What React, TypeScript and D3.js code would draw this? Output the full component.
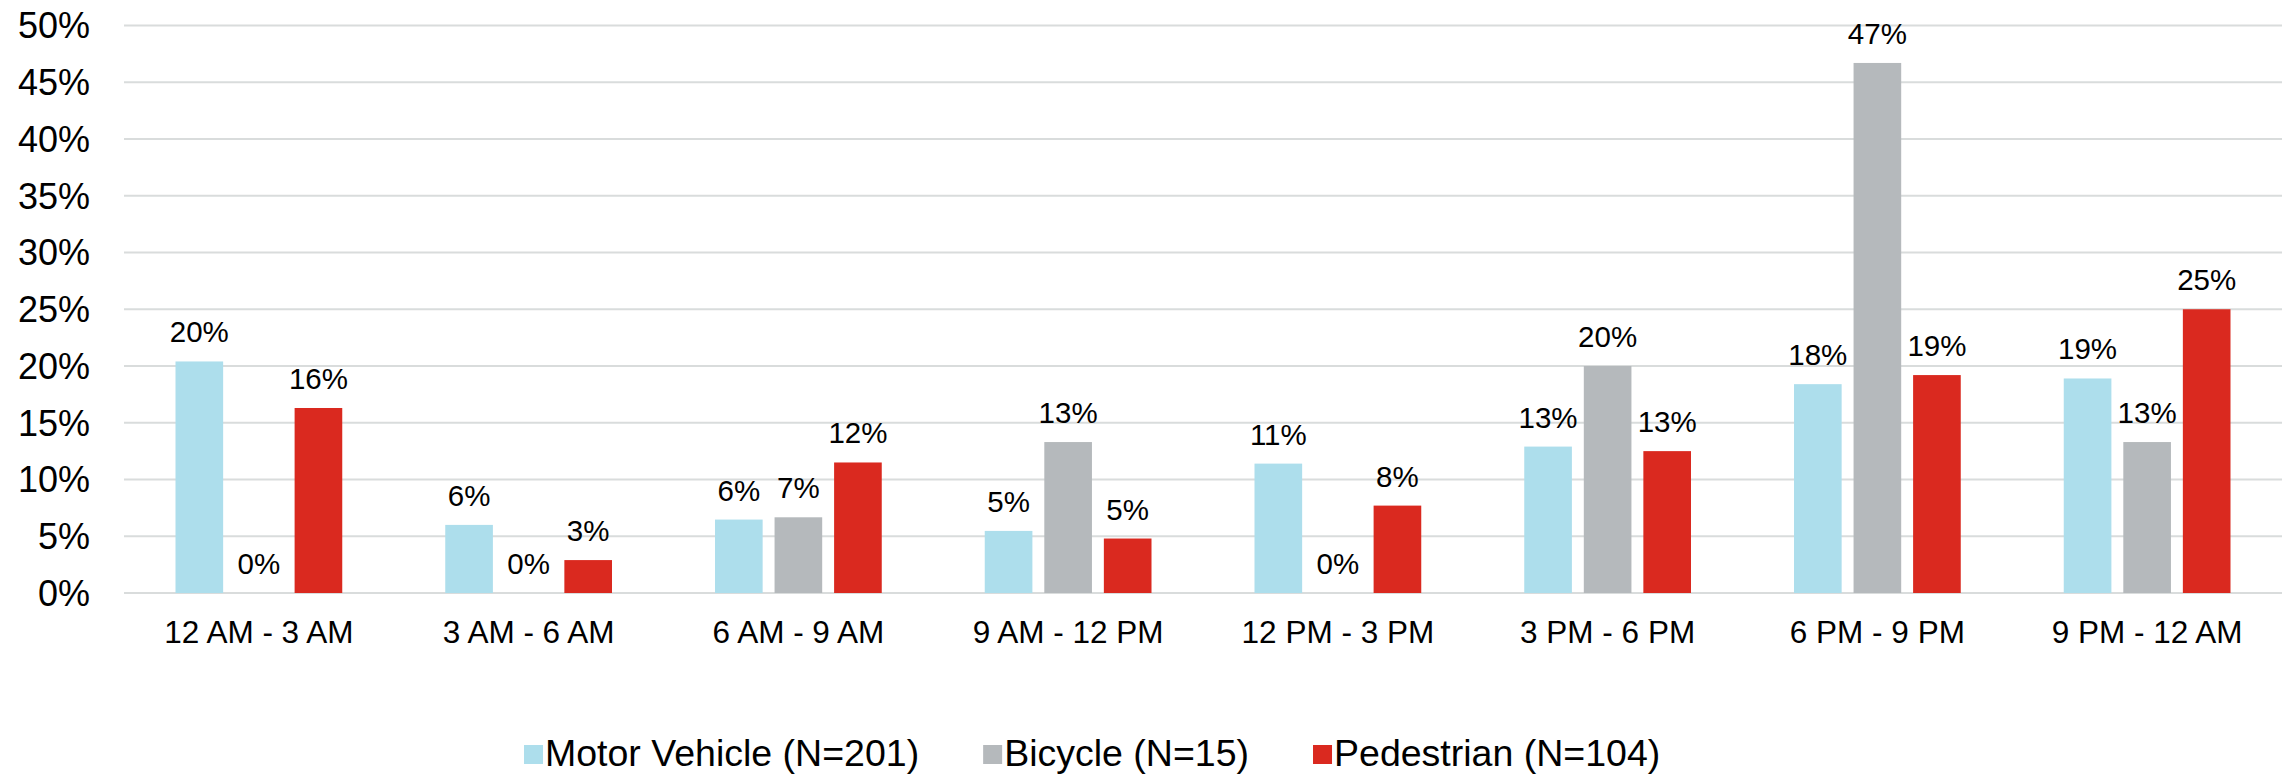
import { useEffect, useRef } from 'react';
import * as d3 from 'd3';

// Time-of-day buckets and share of crashes (%) per mode
const categories = [
  '12 AM - 3 AM',
  '3 AM - 6 AM',
  '6 AM - 9 AM',
  '9 AM - 12 PM',
  '12 PM - 3 PM',
  '3 PM - 6 PM',
  '6 PM - 9 PM',
  '9 PM - 12 AM',
];
const motorVehicle = [20.4, 6.0, 6.47, 5.47, 11.4, 12.9, 18.4, 18.9];
const bicycle = [0, 0, 6.67, 13.3, 0, 20.0, 46.7, 13.3];
const pedestrian = [16.3, 2.9, 11.5, 4.8, 7.7, 12.5, 19.2, 25.0];
const seriesNames = ['Motor Vehicle (N=201)', 'Bicycle (N=15)', 'Pedestrian (N=104)'];
const yTicks = [0, 5, 10, 15, 20, 25, 30, 35, 40, 45, 50];

const colors = ['#addeec', '#b5b9bc', '#da291f'];
const FONT = '"Liberation Sans", Arial, sans-serif';

const W = 2292;
const H = 776;

export default function App() {
  const svgRef = useRef<SVGSVGElement>(null);

  useEffect(() => {
    if (!svgRef.current) return;
    const root = d3.select(svgRef.current);
    root.selectAll('*').remove();

    const margin = { top: 25.5, right: 10, bottom: 183, left: 124 };
    const width = W - margin.left - margin.right;
    const height = H - margin.top - margin.bottom;

    const svg = root.append('g')
      .attr('transform', `translate(${margin.left},${margin.top})`);

    const series = [motorVehicle, bicycle, pedestrian];

    const x0 = d3.scaleBand<string>()
      .domain(categories)
      .range([0, width])
      .padding(0);

    const x1 = d3.scaleBand<number>()
      .domain([0, 1, 2])
      .range([51.5, x0.bandwidth() - 51.5])
      .paddingInner(0.2)
      .paddingOuter(0);

    const y = d3.scaleLinear()
      .domain([0, 50])
      .range([height, 0]);

    // gridlines
    svg.append('g')
      .selectAll('line')
      .data(yTicks)
      .join('line')
      .attr('x1', 0)
      .attr('x2', width)
      .attr('y1', d => y(d))
      .attr('y2', d => y(d))
      .attr('stroke', '#d9dcdc')
      .attr('stroke-width', 2);

    // y tick labels
    svg.append('g')
      .selectAll('text')
      .data(yTicks)
      .join('text')
      .attr('x', -34)
      .attr('y', d => y(d))
      .attr('dy', '0.36em')
      .attr('text-anchor', 'end')
      .style('font-family', FONT)
      .style('font-size', '36px')
      .attr('fill', '#000')
      .text(d => `${d}%`);

    // bars + labels
    const groups = svg.append('g')
      .selectAll('g')
      .data(categories)
      .join('g')
      .attr('transform', d => `translate(${x0(d)},0)`);

    groups.selectAll('rect')
      .data((_, i) => series.map((s, k) => ({ k, v: s[i] })))
      .join('rect')
      .attr('x', d => x1(d.k) as number)
      .attr('width', x1.bandwidth())
      .attr('y', d => y(d.v))
      .attr('height', d => height - y(d.v))
      .attr('fill', d => colors[d.k]);

    groups.selectAll('text.lbl')
      .data((_, i) => series.map((s, k) => ({ k, v: s[i] })))
      .join('text')
      .attr('class', 'lbl')
      .attr('x', d => (x1(d.k) as number) + x1.bandwidth() / 2)
      .attr('y', d => y(d.v) - 19)
      .attr('text-anchor', 'middle')
      .style('font-family', FONT)
      .style('font-size', '29.5px')
      .attr('fill', '#000')
      .text(d => `${Math.round(d.v)}%`);

    // category labels
    svg.append('g')
      .selectAll('text')
      .data(categories)
      .join('text')
      .attr('x', d => (x0(d) as number) + x0.bandwidth() / 2)
      .attr('y', height + 50)
      .attr('text-anchor', 'middle')
      .style('font-family', FONT)
      .style('font-size', '31.5px')
      .attr('fill', '#000')
      .text(d => d);

    // legend
    const legend = root.append('g');
    let lx = 524;
    seriesNames.forEach((name, k) => {
      legend.append('rect')
        .attr('x', lx)
        .attr('y', 745)
        .attr('width', 19)
        .attr('height', 19)
        .attr('fill', colors[k]);
      const t = legend.append('text')
        .attr('x', lx + 21)
        .attr('y', 766)
        .style('font-family', FONT)
        .style('font-size', '37.5px')
        .attr('fill', '#000')
        .text(name);
      const tw = (t.node() as SVGTextElement).getComputedTextLength();
      lx = lx + 21 + tw + 64;
    });
  }, []);

  return (
    <svg
      ref={svgRef}
      width={W}
      height={H}
      style={{ position: 'absolute', left: 0, top: 0, background: '#fff' }}
    />
  );
}
